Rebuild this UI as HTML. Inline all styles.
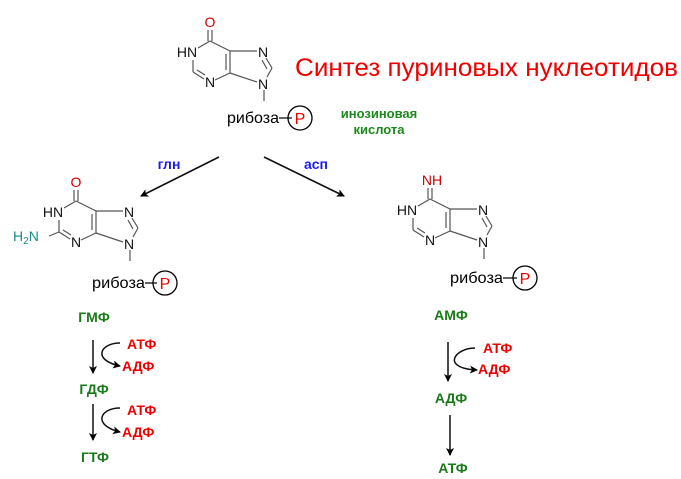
<!DOCTYPE html>
<html><head><meta charset="utf-8"><style>body{margin:0;background:#fff}svg{display:block}text{font-family:"Liberation Sans",sans-serif}</style></head>
<body>
<svg width="681" height="479" viewBox="0 0 681 479" xmlns="http://www.w3.org/2000/svg">
<defs>
<marker id="ah" markerWidth="8" markerHeight="8" refX="7" refY="4" orient="auto" markerUnits="userSpaceOnUse"><path d="M0,0 L8,4 L0,8 L2,4 Z" fill="#000"/></marker>
</defs>
<g stroke="#555" stroke-width="1.2" fill="none">
<line x1="208" y1="30" x2="208" y2="41"/><line x1="212" y1="30" x2="212" y2="41"/>
<line x1="210" y1="41" x2="198" y2="48"/>
<line x1="210" y1="41" x2="230" y2="51"/>
<line x1="193" y1="60" x2="193" y2="72"/>
<line x1="193" y1="72" x2="204" y2="79"/><line x1="197" y1="70" x2="205" y2="75"/>
<line x1="215" y1="80" x2="230" y2="73"/>
<line x1="230" y1="51" x2="230" y2="73"/><line x1="226" y1="54" x2="226" y2="70"/>
<line x1="230" y1="51" x2="257" y2="51"/>
<line x1="266" y1="58" x2="272" y2="68"/><line x1="262" y1="60" x2="267" y2="69"/>
<line x1="272" y1="68" x2="267" y2="77"/>
<line x1="230" y1="73" x2="257" y2="82"/>
<line x1="264" y1="90" x2="264" y2="101"/>
</g>
<g font-size="14" fill="#111">
<text x="210" y="27" text-anchor="middle" fill="#c00">O</text>
<text x="187" y="57" text-anchor="middle">HN</text>
<text x="210" y="87" text-anchor="middle">N</text>
<text x="263" y="57" text-anchor="middle">N</text>
<text x="263" y="89" text-anchor="middle">N</text>
</g>
<text x="227" y="123" font-size="16" textLength="52" lengthAdjust="spacingAndGlyphs">рибоза</text>
<line x1="279" y1="118" x2="292" y2="118" stroke="#000" stroke-width="1.2"/>
<circle cx="300" cy="118" r="12" fill="none" stroke="#000" stroke-width="1.3"/>
<text x="300" y="124" font-size="16" fill="#e00" text-anchor="middle">P</text>

<g transform="translate(-134,160)">
<g stroke="#555" stroke-width="1.2" fill="none">
<line x1="208" y1="30" x2="208" y2="41"/><line x1="212" y1="30" x2="212" y2="41"/>
<line x1="210" y1="41" x2="198" y2="48"/>
<line x1="210" y1="41" x2="230" y2="51"/>
<line x1="193" y1="60" x2="193" y2="72"/>
<line x1="193" y1="72" x2="204" y2="79"/><line x1="197" y1="70" x2="205" y2="75"/>
<line x1="215" y1="80" x2="230" y2="73"/>
<line x1="230" y1="51" x2="230" y2="73"/><line x1="226" y1="54" x2="226" y2="70"/>
<line x1="230" y1="51" x2="257" y2="51"/>
<line x1="266" y1="58" x2="272" y2="68"/><line x1="262" y1="60" x2="267" y2="69"/>
<line x1="272" y1="68" x2="267" y2="77"/>
<line x1="230" y1="73" x2="257" y2="82"/>
<line x1="264" y1="90" x2="264" y2="101"/>
<line x1="193" y1="72" x2="183" y2="76"/>
</g>
<g font-size="14" fill="#111">
<text x="210" y="27" text-anchor="middle" fill="#c00">O</text>
<text x="187" y="57" text-anchor="middle">HN</text>
<text x="210" y="87" text-anchor="middle">N</text>
<text x="263" y="57" text-anchor="middle">N</text>
<text x="263" y="89" text-anchor="middle">N</text>
</g>
</g>
<text x="13" y="241" font-size="14" fill="#1a8a8a">H<tspan font-size="10" dy="3">2</tspan><tspan dy="-3">N</tspan></text>
<text x="92" y="288" font-size="16" textLength="53" lengthAdjust="spacingAndGlyphs">рибоза</text>
<line x1="145" y1="283" x2="157" y2="283" stroke="#000" stroke-width="1.2"/>
<circle cx="165" cy="283" r="12" fill="none" stroke="#000" stroke-width="1.3"/>
<text x="165" y="289" font-size="16" fill="#e00" text-anchor="middle">P</text>

<g transform="translate(220,158)">
<g stroke="#555" stroke-width="1.2" fill="none">
<line x1="208" y1="30" x2="208" y2="41"/><line x1="212" y1="30" x2="212" y2="41"/>
<line x1="210" y1="41" x2="198" y2="48"/>
<line x1="210" y1="41" x2="230" y2="51"/>
<line x1="193" y1="60" x2="193" y2="72"/>
<line x1="193" y1="72" x2="204" y2="79"/><line x1="197" y1="70" x2="205" y2="75"/>
<line x1="215" y1="80" x2="230" y2="73"/>
<line x1="230" y1="51" x2="230" y2="73"/><line x1="226" y1="54" x2="226" y2="70"/>
<line x1="230" y1="51" x2="257" y2="51"/>
<line x1="266" y1="58" x2="272" y2="68"/><line x1="262" y1="60" x2="267" y2="69"/>
<line x1="272" y1="68" x2="267" y2="77"/>
<line x1="230" y1="73" x2="257" y2="82"/>
<line x1="264" y1="90" x2="264" y2="101"/>
</g>
<g font-size="14" fill="#111">
<text x="212" y="27" text-anchor="middle" fill="#c00">NH</text>
<text x="187" y="57" text-anchor="middle">HN</text>
<text x="210" y="87" text-anchor="middle">N</text>
<text x="263" y="57" text-anchor="middle">N</text>
<text x="263" y="89" text-anchor="middle">N</text>
</g>
</g>
<text x="450" y="283" font-size="16" textLength="53" lengthAdjust="spacingAndGlyphs">рибоза</text>
<line x1="503" y1="278" x2="517" y2="278" stroke="#000" stroke-width="1.2"/>
<circle cx="525" cy="278" r="12" fill="none" stroke="#000" stroke-width="1.3"/>
<text x="525" y="284" font-size="16" fill="#e00" text-anchor="middle">P</text>

<text x="295" y="76" font-size="25" fill="#e00" textLength="383" lengthAdjust="spacingAndGlyphs">Синтез пуриновых нуклеотидов</text>
<g font-size="13" font-weight="bold" fill="#1a8a1a" text-anchor="middle">
<text x="379" y="118">инозиновая</text>
<text x="379" y="134">кислота</text>
</g>

<line x1="219" y1="157" x2="141" y2="196" stroke="#111" stroke-width="1.6" marker-end="url(#ah)"/>
<line x1="264" y1="157" x2="344" y2="196" stroke="#111" stroke-width="1.6" marker-end="url(#ah)"/>
<text x="169" y="169" font-size="14" font-weight="bold" fill="#1a1aee" text-anchor="middle">глн</text>
<text x="316" y="169" font-size="14" font-weight="bold" fill="#1a1aee" text-anchor="middle">асп</text>

<g font-size="14" font-weight="bold">
<text x="94" y="322" fill="#1a7a1a" text-anchor="middle">ГМФ</text>
<text x="94" y="394" fill="#1a7a1a" text-anchor="middle">ГДФ</text>
<text x="95" y="462" fill="#1a7a1a" text-anchor="middle">ГТФ</text>
<text x="127" y="349" fill="#e00">АТФ</text>
<text x="122" y="371" fill="#e00">АДФ</text>
<text x="127" y="415" fill="#e00">АТФ</text>
<text x="122" y="437" fill="#e00">АДФ</text>
<text x="451" y="320" fill="#1a7a1a" text-anchor="middle">АМФ</text>
<text x="451" y="403" fill="#1a7a1a" text-anchor="middle">АДФ</text>
<text x="453" y="473" fill="#1a7a1a" text-anchor="middle">АТФ</text>
<text x="483" y="353" fill="#e00">АТФ</text>
<text x="478" y="374" fill="#e00">АДФ</text>
</g>
<g stroke="#111" stroke-width="1.5" fill="none">
<line x1="93" y1="340" x2="93" y2="373" marker-end="url(#ah)"/>
<path d="M120,343 C100,343 92,360 120,366" marker-end="url(#ah)"/>
<line x1="93" y1="404" x2="93" y2="440" marker-end="url(#ah)"/>
<path d="M120,408 C100,408 92,425 120,432" marker-end="url(#ah)"/>
<line x1="448" y1="342" x2="448" y2="381" marker-end="url(#ah)"/>
<path d="M475,348 C455,348 440,368 477,370" marker-end="url(#ah)"/>
<line x1="450" y1="415" x2="450" y2="455" marker-end="url(#ah)"/>
</g>
</svg>
</body></html>
